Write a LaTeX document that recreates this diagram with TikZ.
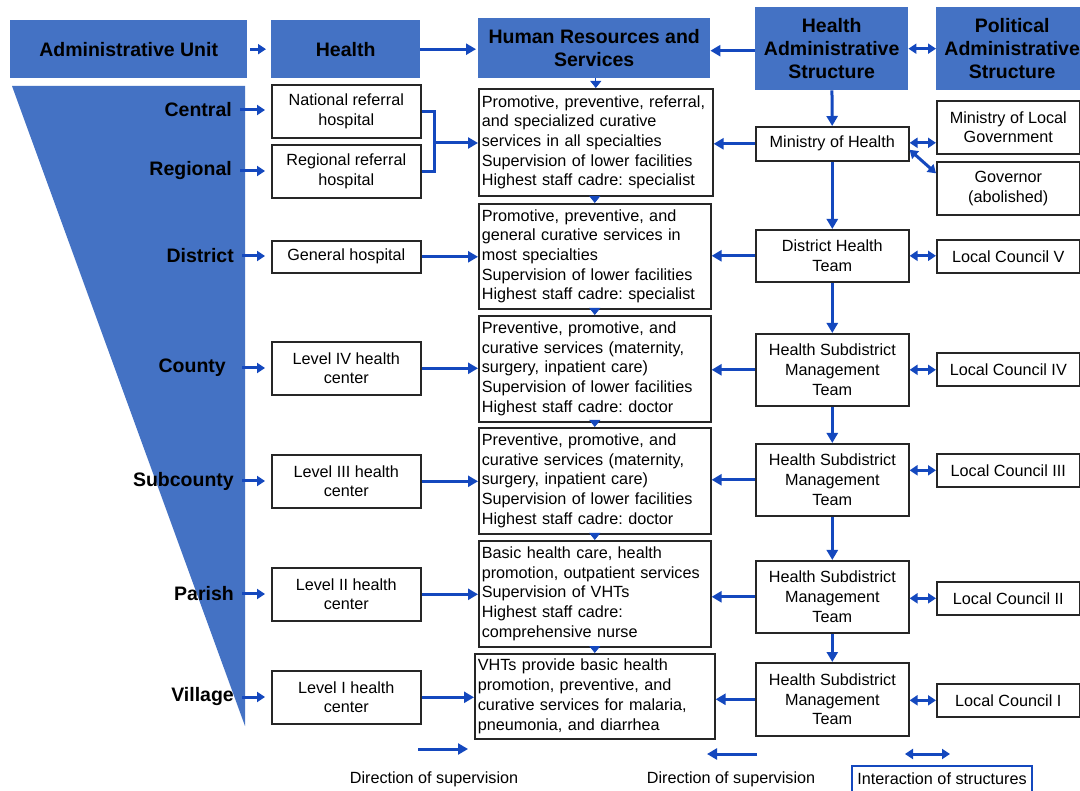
\documentclass[tikz,border=0pt]{standalone}
\usepackage{fontspec}
\setmainfont{Liberation Sans}
\usetikzlibrary{arrows.meta}
\definecolor{hblue}{RGB}{68,114,196}
\definecolor{ablue}{RGB}{20,72,190}
\frenchspacing
\hyphenpenalty=10000
\exhyphenpenalty=10000
\begin{document}
\begin{tikzpicture}[x=1pt,y=-1pt,
 hdr/.style={fill=hblue, font=\bfseries\fontsize{19.5}{23}\selectfont, align=center, inner sep=0pt, anchor=north west},
 bx/.style={draw=black!85, line width=1.6pt, fill=white, font=\fontsize{16.2}{19.7}\selectfont, align=center, inner sep=0pt, anchor=north west},
 hrb/.style={bx, align=left, inner xsep=3pt, inner ysep=0pt},
 lab/.style={font=\bfseries\fontsize{19.5}{23}\selectfont, anchor=east, inner sep=0pt},
 sup/.style={ablue, line width=3pt, -{Triangle[length=10pt,width=11pt]}},
 sups/.style={ablue, line width=3pt, -{Triangle[length=8pt,width=10pt]}},
 inter/.style={ablue, line width=3pt, {Triangle[length=8pt,width=10pt]}-{Triangle[length=8pt,width=10pt]}},
 tri/.style={ablue, line width=0.8pt, -{Triangle[length=7pt,width=11pt]}},
 leg/.style={font=\fontsize{16.2}{19.7}\selectfont, inner sep=0pt},
]
\clip (0,0) rectangle (1080,791);
\fill[white] (0,0) rectangle (1080,791);

% funnel
\fill[hblue] (12,86) -- (245,86) -- (245,726) -- cycle;

% headers
\node[hdr, minimum width=237pt, minimum height=58pt] (hau) at (10,20) {Administrative Unit};
\node[hdr, minimum width=149pt, minimum height=58pt] (hh) at (271,20) {Health};
\node[hdr, minimum width=232pt, minimum height=60pt] (hhr) at (478,18) {Human Resources and\\Services};
\node[hdr, minimum width=153pt, minimum height=83pt] (has) at (755,7) {Health\\Administrative\\Structure};
\node[hdr, minimum width=152pt, minimum height=83pt] (pas) at (936,7) {Political\\Administrative\\Structure};

% level labels
\node[lab] (central) at (232,110) {Central};
\node[lab] (regional) at (232,171) {Regional};
\node[lab] (district) at (234,256) {District};
\node[lab] (county) at (226,368) {County};
\node[lab] (subcounty) at (234,481) {Subcounty};
\node[lab] (parish) at (234,594) {Parish};
\node[lab] (village) at (234,697) {Village};

% health facilities
\node[bx, minimum width=149pt, minimum height=53pt] (natl) at (271,84) {National referral\\hospital};
\node[bx, minimum width=149pt, minimum height=53pt] (regl) at (271,144) {Regional referral\\hospital};
\node[bx, minimum width=149pt, minimum height=32pt] (gen) at (271,240) {General hospital};
\node[bx, minimum width=149pt, minimum height=53pt] (lfour) at (271,341) {Level IV health\\center};
\node[bx, minimum width=149pt, minimum height=53pt] (lthree) at (271,454) {Level III health\\center};
\node[bx, minimum width=149pt, minimum height=53pt] (ltwo) at (271,567) {Level II health\\center};
\node[bx, minimum width=149pt, minimum height=53pt] (lone) at (271,670) {Level I health\\center};

% human resources and services
\node[hrb, text width=228pt, minimum height=107pt] (b1) at (478,88) {Promotive, preventive, referral,\\and specialized curative\\services in all specialties\\Supervision of lower facilities\\Highest staff cadre: specialist};
\node[hrb, text width=226pt, minimum height=105pt] (b2) at (478,203) {Promotive, preventive, and\\general curative services in\\most specialties\\Supervision of lower facilities\\Highest staff cadre: specialist};
\node[hrb, text width=226pt, minimum height=106pt] (b3) at (478,315) {Preventive, promotive, and\\curative services (maternity,\\surgery, inpatient care)\\Supervision of lower facilities\\Highest staff cadre: doctor};
\node[hrb, text width=226pt, minimum height=106pt] (b4) at (478,427) {Preventive, promotive, and\\curative services (maternity,\\surgery, inpatient care)\\Supervision of lower facilities\\Highest staff cadre: doctor};
\node[hrb, text width=226pt, minimum height=106pt] (b5) at (478,540) {Basic health care, health\\promotion, outpatient services\\Supervision of VHTs\\Highest staff cadre:\\comprehensive nurse};
\node[hrb, text width=234pt, minimum height=85pt] (b6) at (474,653) {VHTs provide basic health\\promotion, preventive, and\\curative services for malaria,\\pneumonia, and diarrhea};

% health administrative structure
\node[bx, minimum width=153pt, minimum height=34pt] (moh) at (755,126) {Ministry of Health};
\node[bx, minimum width=153pt, minimum height=52pt] (dht) at (755,229) {District Health\\Team};
\node[bx, minimum width=153pt, minimum height=72pt] (hsa) at (755,333) {Health Subdistrict\\Management\\Team};
\node[bx, minimum width=153pt, minimum height=72pt] (hsb) at (755,443) {Health Subdistrict\\Management\\Team};
\node[bx, minimum width=153pt, minimum height=72pt] (hsc) at (755,560) {Health Subdistrict\\Management\\Team};
\node[bx, minimum width=153pt, minimum height=73pt] (hsd) at (755,662) {Health Subdistrict\\Management\\Team};

% political administrative structure
\node[bx, minimum width=143pt, minimum height=53pt] (molg) at (936,100) {Ministry of Local\\Government};
\node[bx, minimum width=143pt, minimum height=53pt] (gov) at (936,161) {Governor\\(abolished)};
\node[bx, minimum width=143pt, minimum height=33pt] (lcv) at (936,239) {Local Council V};
\node[bx, minimum width=143pt, minimum height=33pt] (lciv) at (936,352) {Local Council IV};
\node[bx, minimum width=143pt, minimum height=33pt] (lciii) at (936,453) {Local Council III};
\node[bx, minimum width=143pt, minimum height=33pt] (lcii) at (936,581) {Local Council II};
\node[bx, minimum width=143pt, minimum height=33pt] (lci) at (936,683) {Local Council I};

% helper coordinates
\coordinate (hasw) at ([yshift=-2pt]has.west);
\coordinate (mohe) at ([yshift=1pt]moh.east);
\coordinate (mohg) at ([yshift=-6pt]moh.east);
\coordinate (govw) at ([yshift=15pt]gov.west);

% header arrows
\draw[sups, shorten <=3pt, shorten >=5pt] (hau.east) -- (hh.west |- hau.east);
\draw[sup, shorten >=2pt] (hh.east) -- (hhr.west |- hh.east);
\draw[sup] (hasw) -- (hhr.east |- hasw);
\draw[inter] (has.east) -- (pas.west |- has.east);

% label arrows
\foreach \l/\b in {central/natl, regional/regl, district/gen, subcounty/lthree, parish/ltwo, village/lone}
  \draw[sups, shorten <=8pt, shorten >=6pt] (\l.east) -- (\b.west |- \l.east);
\draw[sups, shorten <=16pt, shorten >=6pt] (county.east) -- (lfour.west |- county.east);

% facilities to services
\coordinate (jn) at (434,143);
\draw[ablue, line width=3pt] (natl.east) -| (jn);
\draw[ablue, line width=3pt] (regl.east) -| (jn);
\draw[sup] (jn) -- (b1.west |- jn);
\draw[sup] (gen.east) -- (b2.west |- gen.east);
\draw[sup] (lfour.east) -- (b3.west |- lfour.east);
\draw[sup] (lthree.east) -- (b4.west |- lthree.east);
\draw[sup] (ltwo.east) -- (b5.west |- ltwo.east);
\draw[sup] (lone.east) -- (b6.west |- lone.east);

% small triangles between service boxes
\draw[tri] (b1.north |- hhr.south) -- (b1.north);
\draw[tri] (b2.north |- b1.south) -- (b2.north);
\draw[tri] (b3.north |- b2.south) -- (b3.north);
\draw[tri] (b4.north |- b3.south) -- (b4.north);
\draw[tri] (b5.north |- b4.south) -- (b5.north);
\draw[tri] (b6.north |- b5.south) -- (b6.north);

% health admin vertical chain
\draw[sup] (has) -- (moh);
\draw[sup] (moh) -- (dht);
\draw[sup] (dht) -- (hsa);
\draw[sup] (hsa) -- (hsb);
\draw[sup] (hsb) -- (hsc);
\draw[sup] (hsc) -- (hsd);

% health admin to services
\draw[sup] (moh.west) -- (b1.east |- moh.west);
\draw[sup] (dht.west) -- (b2.east |- dht.west);
\draw[sup] (hsa.west) -- (b3.east |- hsa.west);
\draw[sup] (hsb.west) -- (b4.east |- hsb.west);
\draw[sup] (hsc.west) -- (b5.east |- hsc.west);
\draw[sup] (hsd.west) -- (b6.east |- hsd.west);

% interactions
\draw[inter] (mohe) -- (molg.west |- mohe);
\draw[inter] (mohg) -- (govw);
\draw[inter] (dht.east) -- (lcv.west |- dht.east);
\draw[inter] (hsa.east) -- (lciv.west |- hsa.east);
\draw[inter] (hsb.east |- lciii.west) -- (lciii.west);
\draw[inter] (hsc.east |- lcii.west) -- (lcii.west);
\draw[inter] (hsd.east |- lci.west) -- (lci.west);

% legend
\coordinate (la) at (418,749);
\coordinate (lb) at (468,749);
\draw[sup] (la) -- (lb);
\node[leg] (lta) at (434,779) {Direction of supervision};
\coordinate (lc) at (757,754);
\coordinate (ld) at (707,754);
\draw[sup] (lc) -- (ld);
\node[leg] (ltb) at (731,779) {Direction of supervision};
\coordinate (le) at (905,754);
\coordinate (lf) at (950,754);
\draw[inter] (le) -- (lf);
\node[leg, draw=ablue, line width=1.2pt, minimum width=180pt, minimum height=26pt] (ltc) at (942,779) {Interaction of structures};
\end{tikzpicture}
\end{document}
